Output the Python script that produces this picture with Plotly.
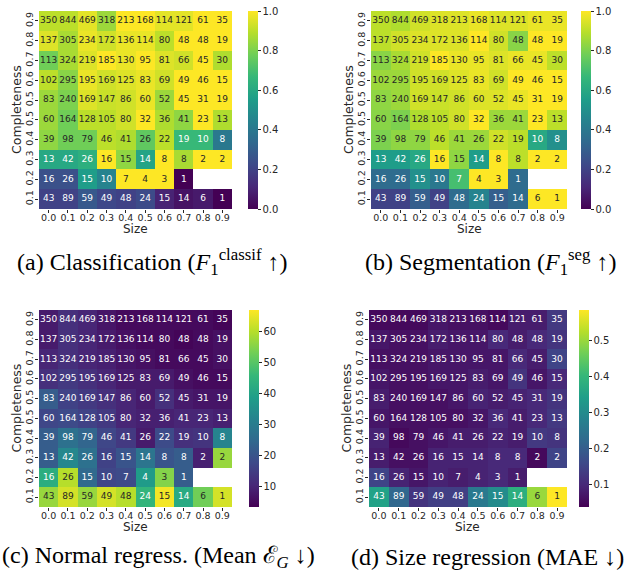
import plotly.graph_objects as go
from plotly.colors import sample_colorscale, sequential

# ---------------- data (rows listed top -> bottom as in the picture) ----------------
size_labels = ["0.0", "0.1", "0.2", "0.3", "0.4", "0.5", "0.6", "0.7", "0.8", "0.9"]
completeness_labels = ["0.9", "0.8", "0.7", "0.6", "0.5", "0.5", "0.4", "0.3", "0.2", "0.1"]

counts = [
    [350, 844, 469, 318, 213, 168, 114, 121, 61, 35],
    [137, 305, 234, 172, 136, 114, 80, 48, 48, 19],
    [113, 324, 219, 185, 130, 95, 81, 66, 45, 30],
    [102, 295, 195, 169, 125, 83, 69, 49, 46, 15],
    [83, 240, 169, 147, 86, 60, 52, 45, 31, 19],
    [60, 164, 128, 105, 80, 32, 36, 41, 23, 13],
    [39, 98, 79, 46, 41, 26, 22, 19, 10, 8],
    [13, 42, 26, 16, 15, 14, 8, 8, 2, 2],
    [16, 26, 15, 10, 7, 4, 3, 1, None, None],
    [43, 89, 59, 49, 48, 24, 15, 14, 6, 1],
]

f1_classif = [
    [0.90, 0.90, 0.96, 0.85, 1.00, 1.00, 0.96, 0.96, 1.00, 1.00],
    [0.95, 0.87, 0.97, 0.93, 0.97, 0.97, 0.90, 1.00, 1.00, 1.00],
    [0.78, 0.87, 0.95, 1.00, 0.97, 1.00, 0.95, 0.93, 1.00, 0.88],
    [0.90, 0.82, 0.97, 0.93, 0.95, 0.97, 0.93, 1.00, 1.00, 1.00],
    [0.85, 0.80, 0.95, 0.92, 0.93, 0.97, 0.85, 1.00, 1.00, 1.00],
    [0.85, 0.78, 0.90, 0.90, 0.93, 1.00, 0.88, 0.83, 1.00, 0.88],
    [0.83, 0.78, 0.78, 0.90, 0.88, 0.75, 0.90, 0.67, 0.67, 0.40],
    [0.60, 0.60, 0.63, 1.00, 0.83, 0.58, 1.00, 0.87, 1.00, 1.00],
    [0.25, 0.25, 0.55, 0.45, 1.00, 1.00, 1.00, 0.00, None, None],
    [0.20, 0.20, 0.28, 0.22, 0.20, 0.23, 0.10, 0.05, 0.07, 0.00],
]

f1_seg = [
    [0.90, 0.88, 0.93, 0.95, 0.95, 0.97, 0.95, 0.95, 0.97, 0.97],
    [0.90, 0.93, 0.95, 0.95, 0.95, 1.00, 0.93, 0.82, 1.00, 1.00],
    [0.82, 0.87, 0.93, 1.00, 0.97, 0.97, 0.95, 0.97, 0.97, 0.90],
    [0.85, 0.85, 0.93, 0.93, 0.95, 0.97, 0.93, 1.00, 1.00, 1.00],
    [0.83, 0.85, 0.93, 0.92, 0.93, 0.95, 0.95, 0.97, 1.00, 1.00],
    [0.82, 0.80, 0.88, 0.90, 0.93, 1.00, 0.85, 0.85, 1.00, 0.90],
    [0.80, 0.83, 0.83, 0.90, 0.85, 0.85, 0.93, 0.90, 0.60, 0.50],
    [0.55, 0.55, 0.60, 1.00, 0.83, 0.55, 1.00, 0.90, 1.00, 1.00],
    [0.35, 0.35, 0.50, 0.40, 0.70, 1.00, 1.00, 0.35, None, None],
    [0.20, 0.20, 0.30, 0.20, 0.35, 0.45, 0.30, 0.35, 1.00, 1.00],
]

normal_err = [
    [8, 12, 10, 7, 5, 5, 5, 5, 5, 4],
    [8, 12, 10, 8, 6, 5, 5, 4, 5, 6],
    [10, 12, 10, 9, 7, 6, 5, 5, 5, 6],
    [12, 14, 12, 10, 8, 8, 8, 6, 5, 5],
    [22, 16, 14, 12, 10, 8, 12, 8, 7, 7],
    [17, 18, 16, 14, 10, 9, 9, 10, 10, 9],
    [22, 27, 24, 17, 14, 8, 18, 12, 13, 32],
    [22, 33, 27, 16, 20, 28, 20, 22, 9, 57],
    [43, 60, 25, 17, 18, 38, 55, 22, None, None],
    [57, 63, 57, 63, 60, 45, 66, 42, 53, 63],
]

size_mae = [
    [0.05, 0.05, 0.05, 0.07, 0.06, 0.06, 0.05, 0.08, 0.08, 0.13],
    [0.07, 0.06, 0.06, 0.08, 0.07, 0.07, 0.10, 0.08, 0.10, 0.12],
    [0.06, 0.06, 0.06, 0.07, 0.07, 0.07, 0.07, 0.10, 0.08, 0.15],
    [0.07, 0.06, 0.06, 0.07, 0.07, 0.08, 0.07, 0.12, 0.07, 0.10],
    [0.08, 0.06, 0.06, 0.06, 0.07, 0.09, 0.08, 0.09, 0.10, 0.12],
    [0.07, 0.06, 0.06, 0.06, 0.06, 0.07, 0.10, 0.08, 0.10, 0.13],
    [0.09, 0.05, 0.06, 0.07, 0.08, 0.08, 0.09, 0.08, 0.13, 0.12],
    [0.08, 0.06, 0.06, 0.09, 0.09, 0.09, 0.10, 0.10, 0.05, 0.15],
    [0.15, 0.09, 0.07, 0.09, 0.08, 0.09, 0.10, 0.08, None, None],
    [0.35, 0.22, 0.12, 0.14, 0.14, 0.26, 0.30, 0.38, 0.50, 0.585],
]

captions = [
    "(a) Classification (<i>F</i><sub>1</sub><sup>classif</sup> ↑)",
    "(b) Segmentation (<i>F</i><sub>1</sub><sup>seg</sup> ↑)",
    "(c) Normal regress. (Mean ℰ<sub><i>G</i></sub> ↓)",
    "(d) Size regression (MAE ↓)",
]

# colour ranges of each colorbar
ranges = [(0.0, 1.0), (0.0, 1.0), (3.3, 67.0), (0.037, 0.585)]
cbar_ticks = [
    [0.0, 0.2, 0.4, 0.6, 0.8, 1.0],
    [0.0, 0.2, 0.4, 0.6, 0.8, 1.0],
    [10, 20, 30, 40, 50, 60],
    [0.1, 0.2, 0.3, 0.4, 0.5],
]
cbar_ticktext = [
    ["0.0", "0.2", "0.4", "0.6", "0.8", "1.0"],
    ["0.0", "0.2", "0.4", "0.6", "0.8", "1.0"],
    ["10", "20", "30", "40", "50", "60"],
    ["0.1", "0.2", "0.3", "0.4", "0.5"],
]

# ---------------- layout geometry (pixels) ----------------
W, H = 628, 578
panels = [
    dict(x0=39, x1=232, y0=11, y1=209, cb=248),
    dict(x0=371, x1=567, y0=11, y1=209, cb=581),
    dict(x0=39, x1=232, y0=310, y1=507, cb=249),
    dict(x0=369, x1=567, y0=310, y1=507, cb=579),
]
cap_pos = [(152, 262), (490, 262), (158, 557), (487, 557)]

TXT = "#262626"
FONT = "DejaVu Sans"


def lin(c):
    c = c / 255.0
    return c / 12.92 if c <= 0.03928 else ((c + 0.055) / 1.055) ** 2.4


def text_color(v, lo, hi):
    t = min(max((v - lo) / (hi - lo), 0), 1)
    col = sample_colorscale(sequential.Viridis, [t])[0]
    r, g, b = [float(s) for s in col[col.index("(") + 1:col.index(")")].split(",")]
    L = 0.2126 * lin(r) + 0.7152 * lin(g) + 0.0722 * lin(b)
    return TXT if L > 0.408 else "white"


fig = go.Figure()
datasets = [f1_classif, f1_seg, normal_err, size_mae]
idx = list(range(10))
layout = {}
annotations = []

for k, (data, p) in enumerate(zip(datasets, panels)):
    n = "" if k == 0 else str(k + 1)
    lo, hi = ranges[k]
    z = list(reversed(data))
    cnt = list(reversed(counts))
    fig.add_trace(go.Heatmap(
        z=z, x=idx, y=idx, coloraxis="coloraxis" + n,
        xaxis="x" + n, yaxis="y" + n, hoverinfo="skip", xgap=0, ygap=0,
    ))
    tx, ty, tt, tc = [], [], [], []
    for r in range(10):
        for c in range(10):
            if cnt[r][c] is None or z[r][c] is None:
                continue
            tx.append(c)
            ty.append(r)
            tt.append(str(cnt[r][c]))
            tc.append(text_color(z[r][c], lo, hi))
    fig.add_trace(go.Scatter(
        x=tx, y=ty, text=tt, mode="text", xaxis="x" + n, yaxis="y" + n,
        textfont=dict(family=FONT, size=9, color=tc),
        hoverinfo="skip", showlegend=False,
    ))
    xd = [p["x0"] / W, p["x1"] / W]
    yd = [1 - p["y1"] / H, 1 - p["y0"] / H]
    layout["xaxis" + n] = dict(
        domain=xd, anchor="y" + n, range=[-0.5, 9.5], tickvals=idx, ticktext=size_labels,
        showgrid=False, zeroline=False, ticks="outside", ticklen=3, tickcolor=TXT,
        tickfont=dict(family=FONT, size=9.5, color=TXT), ticklabelstandoff=-3,
        showline=False, fixedrange=True,
    )
    layout["yaxis" + n] = dict(
        domain=yd, anchor="x" + n, range=[-0.5, 9.5], tickvals=idx,
        ticktext=list(reversed(completeness_labels)), tickangle=-90,
        showgrid=False, zeroline=False, ticks="outside", ticklen=3, tickcolor=TXT,
        tickfont=dict(family=FONT, size=9.5, color=TXT), ticklabelstandoff=-2,
        showline=False, fixedrange=True,
    )
    layout["coloraxis" + n] = dict(
        colorscale="Viridis", cmin=lo, cmax=hi,
        colorbar=dict(
            x=p["cb"] / W, xanchor="left", xpad=0, ypad=0,
            y=(yd[0] + yd[1]) / 2, yanchor="middle", len=(p["y1"] - p["y0"]) / H,
            lenmode="fraction", thickness=10, thicknessmode="pixels",
            outlinewidth=0, ticks="outside", ticklen=3, tickcolor=TXT,
            tickvals=cbar_ticks[k], ticktext=cbar_ticktext[k],
            tickfont=dict(family=FONT, size=10, color=TXT),
        ),
    )
    # axis titles
    annotations.append(dict(
        text="Size", x=(p["x0"] + p["x1"]) / 2 / W, y=1 - (p["y1"] + 20) / H,
        xref="paper", yref="paper", xanchor="center", yanchor="middle",
        showarrow=False, font=dict(family=FONT, size=12, color=TXT),
    ))
    annotations.append(dict(
        text="Completeness", x=(p["x0"] - 23) / W, y=1 - (p["y0"] + p["y1"]) / 2 / H,
        xref="paper", yref="paper", xanchor="center", yanchor="middle", textangle=-90,
        showarrow=False, font=dict(family=FONT, size=12.5, color=TXT),
    ))

for cap, (cx, cy) in zip(captions, cap_pos):
    annotations.append(dict(
        text=cap, x=cx / W, y=1 - cy / H, xref="paper", yref="paper",
        xanchor="center", yanchor="middle", showarrow=False,
        font=dict(family="Liberation Serif", size=24, color="black"),
    ))

fig.update_layout(
    width=W, height=H, margin=dict(l=0, r=0, t=0, b=0),
    paper_bgcolor="white", plot_bgcolor="white", showlegend=False,
    annotations=annotations, **layout,
)

fig.write_html("out.html", config={"displayModeBar": False},
               post_script="document.body.style.margin='0';")
